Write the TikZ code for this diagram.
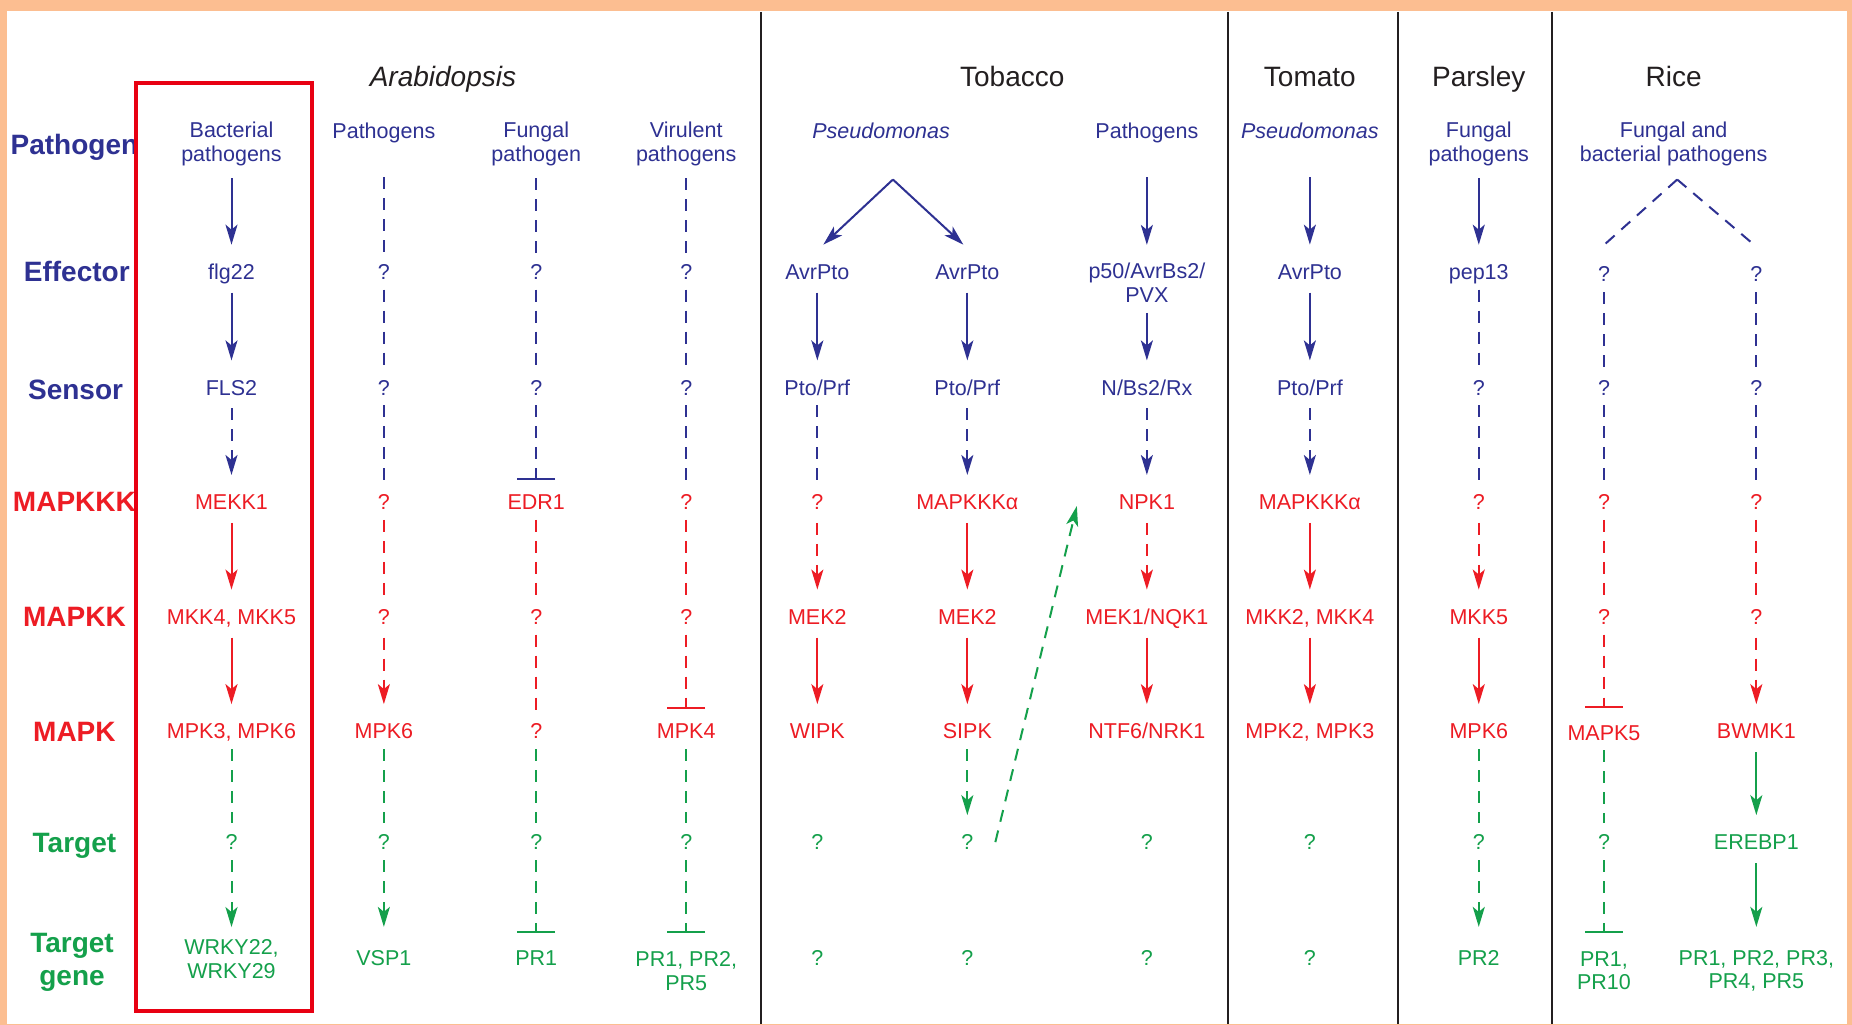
\documentclass[tikz,border=0pt]{standalone}
\usepackage{fontspec}
\setmainfont{Liberation Sans}
\usetikzlibrary{arrows.meta}
\definecolor{navy}{RGB}{46,49,146}
\definecolor{myred}{RGB}{237,28,36}
\definecolor{mygreen}{RGB}{20,160,75}
\definecolor{boxred}{RGB}{232,0,18}
\definecolor{hdgray}{RGB}{35,31,32}
\definecolor{peach}{RGB}{252,190,145}
\definecolor{peachlt}{RGB}{254,238,226}
\newcommand\linkX[5]{\draw[#1] ([yshift=-#3]#2.center) -- ([yshift=#5]#4.center);}
\newcommand\linkA[3]{\linkX{#1}{#2}{21pt}{#3}{27pt}}
\newcommand\linkN[3]{\linkX{#1}{#2}{18pt}{#3}{19pt}}
\begin{document}
\begin{tikzpicture}[x=1.1811pt,y=-1.1811pt,
  ttx/.style={font=\fontsize{21.5}{23.6}\selectfont, inner sep=0pt, text height=15.4pt, text depth=0pt},
  tmx/.style={font=\fontsize{21.5}{23.6}\selectfont, inner sep=0pt, align=center},
  nb/.style={ttx,text=navy}, nr/.style={ttx,text=myred}, ng/.style={ttx,text=mygreen},
  mb/.style={tmx,text=navy}, mr/.style={tmx,text=myred}, mg/.style={tmx,text=mygreen},
  thd/.style={font=\fontsize{28}{30}\selectfont, text=hdgray, inner sep=0pt, text height=20pt, text depth=0pt},
  tlb/.style={font=\fontsize{28}{33}\selectfont\bfseries, inner sep=0pt, text height=20pt, text depth=0pt},
  kln/.style={line width=2pt},
  kb/.style={kln,draw=navy}, kr/.style={kln,draw=myred}, kg/.style={kln,draw=mygreen},
  kds/.style={dash pattern=on 12pt off 9pt},
  kah/.style={-{Stealth[length=20pt,width=12pt,inset=5pt]}},
  ktee/.style={-{Bar[width=38pt]}},
  divl/.style={line width=2pt, draw=hdgray}
]
\useasboundingbox (0,0) rectangle (1568,867);
% frame
\shade[top color=peach, middle color=peachlt, bottom color=peach] (0,0) rectangle (1568,867);
\fill[peach] (0,0) rectangle (1568,9);
\fill[white] (6,9) rectangle (1564,867);
% dividers
\draw[divl] (644,10) -- (644,867);
\draw[divl] (1040,10) -- (1040,867);
\draw[divl] (1184,10) -- (1184,867);
\draw[divl] (1314,10) -- (1314,867);
% headers
\node[thd, font=\fontsize{28}{30}\selectfont\itshape] (hA) at (375,65) {Arabidopsis};
\node[thd] (hT) at (857,65) {Tobacco};
\node[thd] (hTo) at (1109,65) {Tomato};
\node[thd] (hP) at (1252,65) {Parsley};
\node[thd] (hR) at (1417,65) {Rice};
% row labels
\node[tlb, text=navy] (lP) at (63,122) {Pathogen};
\node[tlb, text=navy] (lE) at (65,230) {Effector};
\node[tlb, text=navy] (lS) at (64,330) {Sensor};
\node[tlb, text=myred] (lK3) at (63,425) {MAPKKK};
\node[tlb, text=myred] (lK2) at (63,522) {MAPKK};
\node[tlb, text=myred] (lK1) at (63,619) {MAPK};
\node[tlb, text=mygreen] (lT) at (63,713) {Target};
\node[font=\fontsize{28}{33}\selectfont\bfseries, inner sep=0pt, align=center, text=mygreen] (lG) at (61,815) {Target\\gene};
% pathogen row
\node[mb] (p1) at (196,122) {Bacterial\\pathogens};
\node[nb] (p2) at (325,111) {Pathogens};
\node[mb] (p3) at (454,122) {Fungal\\pathogen};
\node[mb] (p4) at (581,122) {Virulent\\pathogens};
\node[nb, font=\fontsize{21.5}{23.6}\selectfont\itshape] (p56) at (746,111) {Pseudomonas};
\node[nb] (p7) at (971,111) {Pathogens};
\node[nb, font=\fontsize{21.5}{23.6}\selectfont\itshape] (p8) at (1109,111) {Pseudomonas};
\node[mb] (p9) at (1252,122) {Fungal\\pathogens};
\node[mb] (p1011) at (1417,122) {Fungal and\\bacterial pathogens};
% effector row
\node[nb] (e1) at (196,230) {flg22};
\node[nb] (e2) at (325,230) {?};
\node[nb] (e3) at (454,230) {?};
\node[nb] (e4) at (581,230) {?};
\node[nb] (e5) at (692,230) {AvrPto};
\node[nb] (e6) at (819,230) {AvrPto};
\node[mb] (e7) at (971,239.5) {p50/AvrBs2/\\PVX};
\node[nb] (e8) at (1109,230) {AvrPto};
\node[nb] (e9) at (1252,230) {pep13};
\node[nb] (e10) at (1358,232) {?};
\node[nb] (e11) at (1487,232) {?};
% sensor row
\node[nb] (s1) at (196,328) {FLS2};
\node[nb] (s2) at (325,328) {?};
\node[nb] (s3) at (454,328) {?};
\node[nb] (s4) at (581,328) {?};
\node[nb] (s5) at (692,328) {Pto/Prf};
\node[nb] (s6) at (819,328) {Pto/Prf};
\node[nb] (s7) at (971,328) {N/Bs2/Rx};
\node[nb] (s8) at (1109,328) {Pto/Prf};
\node[nb] (s9) at (1252,328) {?};
\node[nb] (s10) at (1358,328) {?};
\node[nb] (s11) at (1487,328) {?};
% MAPKKK row
\node[nr] (k1) at (196,425) {MEKK1};
\node[nr] (k2) at (325,425) {?};
\node[nr] (k3) at (454,425) {EDR1};
\node[nr] (k4) at (581,425) {?};
\node[nr] (k5) at (692,425) {?};
\node[nr] (k6) at (819,425) {MAPKKKα};
\node[nr] (k7) at (971,425) {NPK1};
\node[nr] (k8) at (1109,425) {MAPKKKα};
\node[nr] (k9) at (1252,425) {?};
\node[nr] (k10) at (1358,425) {?};
\node[nr] (k11) at (1487,425) {?};
% MAPKK row
\node[nr] (m1) at (196,522) {MKK4, MKK5};
\node[nr] (m2) at (325,522) {?};
\node[nr] (m3) at (454,522) {?};
\node[nr] (m4) at (581,522) {?};
\node[nr] (m5) at (692,522) {MEK2};
\node[nr] (m6) at (819,522) {MEK2};
\node[nr] (m7) at (971,522) {MEK1/NQK1};
\node[nr] (m8) at (1109,522) {MKK2, MKK4};
\node[nr] (m9) at (1252,522) {MKK5};
\node[nr] (m10) at (1358,522) {?};
\node[nr] (m11) at (1487,522) {?};
% MAPK row
\node[nr] (a1) at (196,619) {MPK3, MPK6};
\node[nr] (a2) at (325,619) {MPK6};
\node[nr] (a3) at (454,619) {?};
\node[nr] (a4) at (581,619) {MPK4};
\node[nr] (a5) at (692,619) {WIPK};
\node[nr] (a6) at (819,619) {SIPK};
\node[nr] (a7) at (971,619) {NTF6/NRK1};
\node[nr] (a8) at (1109,619) {MPK2, MPK3};
\node[nr] (a9) at (1252,619) {MPK6};
\node[nr] (a10) at (1358,620) {MAPK5};
\node[nr] (a11) at (1487,619) {BWMK1};
% target row
\node[ng] (t1) at (196,713) {?};
\node[ng] (t2) at (325,713) {?};
\node[ng] (t3) at (454,713) {?};
\node[ng] (t4) at (581,713) {?};
\node[ng] (t5) at (692,713) {?};
\node[ng] (t6) at (819,713) {?};
\node[ng] (t7) at (971,713) {?};
\node[ng] (t8) at (1109,713) {?};
\node[ng] (t9) at (1252,713) {?};
\node[ng] (t10) at (1358,713) {?};
\node[ng] (t11) at (1487,713) {EREBP1};
% target gene row
\node[mg] (g1) at (196,812) {WRKY22,\\WRKY29};
\node[ng] (g2) at (325,811) {VSP1};
\node[ng] (g3) at (454,811) {PR1};
\node[mg] (g4) at (581,822) {PR1, PR2,\\PR5};
\node[ng] (g5) at (692,811) {?};
\node[ng] (g6) at (819,811) {?};
\node[ng] (g7) at (971,811) {?};
\node[ng] (g8) at (1109,811) {?};
\node[ng] (g9) at (1252,811) {PR2};
\node[mg] (g10) at (1358,822) {PR1,\\PR10};
\node[mg] (g11) at (1487,822) {PR1, PR2, PR3,\\PR4, PR5};
% ---- connectors
% col 1
\linkX{kb,kah}{p1}{34pt}{e1}{27pt}
\linkA{kb,kah}{e1}{s1}
\linkA{kb,kds,kah}{s1}{k1}
\linkA{kr,kah}{k1}{m1}
\linkA{kr,kah}{m1}{a1}
\linkN{kg,kds}{a1}{t1}
\linkX{kg,kds,kah}{t1}{18pt}{g1}{32pt}
% col 2
\linkX{kb,kds}{p2}{46pt}{e2}{18pt}
\linkN{kb,kds}{e2}{s2}
\linkN{kb,kds}{s2}{k2}
\linkN{kr,kds}{k2}{m2}
\linkA{kr,kds,kah}{m2}{a2}
\linkN{kg,kds}{a2}{t2}
\linkX{kg,kds,kah}{t2}{18pt}{g2}{31pt}
% col 3
\linkX{kb,kds}{p3}{34pt}{e3}{18pt}
\linkN{kb,kds}{e3}{s3}
\linkX{kb,kds,ktee}{s3}{18pt}{k3}{22pt}
\linkN{kr,kds}{k3}{m3}
\linkN{kr,kds}{m3}{a3}
\linkN{kg,kds}{a3}{t3}
\linkX{kg,kds,ktee}{t3}{18pt}{g3}{25pt}
% col 4
\linkX{kb,kds}{p4}{34pt}{e4}{18pt}
\linkN{kb,kds}{e4}{s4}
\linkN{kb,kds}{s4}{k4}
\linkN{kr,kds}{k4}{m4}
\linkX{kr,kds,ktee}{m4}{18pt}{a4}{22pt}
\linkN{kg,kds}{a4}{t4}
\linkX{kg,kds,ktee}{t4}{18pt}{g4}{38pt}
% col 5 and 6 (Pseudomonas split)
\coordinate (ap1) at (756,152);
\draw[kb,kah] (ap1) -- ([xshift=6pt,yshift=27pt]e5.center);
\draw[kb,kah] (ap1) -- ([xshift=-4pt,yshift=27pt]e6.center);
\linkA{kb,kah}{e5}{s5}
\linkN{kb,kds}{s5}{k5}
\linkA{kr,kds,kah}{k5}{m5}
\linkA{kr,kah}{m5}{a5}
\linkA{kb,kah}{e6}{s6}
\linkA{kb,kds,kah}{s6}{k6}
\linkA{kr,kah}{k6}{m6}
\linkA{kr,kah}{m6}{a6}
\linkX{kg,kds,kah}{a6}{18pt}{t6}{27pt}
\draw[kg,kds,kah] ([xshift=28pt]t6.center) -- ([xshift=-70pt,yshift=-4pt]k7.center);
% col 7
\linkX{kb,kah}{p7}{46pt}{e7}{38pt}
\linkX{kb,kah}{e7}{30pt}{s7}{27pt}
\linkA{kb,kds,kah}{s7}{k7}
\linkA{kr,kds,kah}{k7}{m7}
\linkA{kr,kah}{m7}{a7}
% col 8
\linkX{kb,kah}{p8}{46pt}{e8}{27pt}
\linkA{kb,kah}{e8}{s8}
\linkA{kb,kds,kah}{s8}{k8}
\linkA{kr,kah}{k8}{m8}
\linkA{kr,kah}{m8}{a8}
% col 9
\linkX{kb,kah}{p9}{34pt}{e9}{27pt}
\linkN{kb,kds}{e9}{s9}
\linkN{kb,kds}{s9}{k9}
\linkA{kr,kds,kah}{k9}{m9}
\linkA{kr,kah}{m9}{a9}
\linkN{kg,kds}{a9}{t9}
\linkX{kg,kds,kah}{t9}{18pt}{g9}{31pt}
% col 10 and 11 (Rice)
\coordinate (ap2) at (1420,152);
\draw[kb,kds] (ap2) -- ([yshift=29pt]e10.center);
\draw[kb,kds] (ap2) -- ([xshift=-2pt,yshift=29pt]e11.center);
\linkN{kb,kds}{e10}{s10}
\linkN{kb,kds}{s10}{k10}
\linkN{kr,kds}{k10}{m10}
\linkX{kr,kds,ktee}{m10}{18pt}{a10}{24pt}
\linkN{kg,kds}{a10}{t10}
\linkX{kg,kds,ktee}{t10}{18pt}{g10}{38pt}
\linkN{kb,kds}{e11}{s11}
\linkN{kb,kds}{s11}{k11}
\linkN{kr,kds}{k11}{m11}
\linkA{kr,kds,kah}{m11}{a11}
\linkA{kg,kah}{a11}{t11}
\linkX{kg,kah}{t11}{21pt}{g11}{44pt}
% highlight box
\draw[line width=4pt, draw=boxred] (115,70) rectangle (264,856);
\end{tikzpicture}
\end{document}
